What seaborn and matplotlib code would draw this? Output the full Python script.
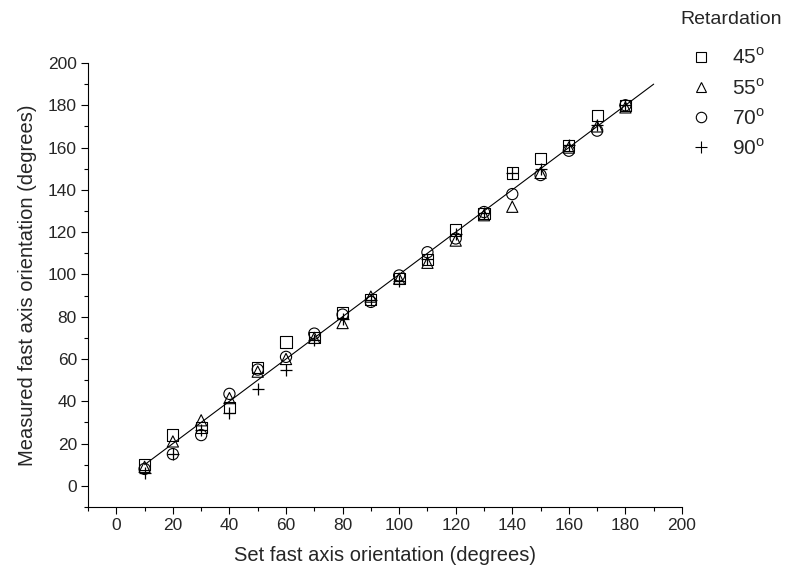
import numpy as np
import matplotlib
matplotlib.use("Agg")
import matplotlib.pyplot as plt
from matplotlib.ticker import MultipleLocator
from matplotlib.lines import Line2D
import seaborn as sns
import pandas as pd

sns.set_style("ticks")
plt.rcParams['font.family'] = ['Liberation Sans', 'DejaVu Sans']
plt.rcParams['mathtext.fontset'] = 'custom'
plt.rcParams['mathtext.rm'] = 'Liberation Sans'

set_angle = [10, 20, 30, 40, 50, 60, 70, 80, 90, 100, 110, 120, 130, 140, 150, 160, 170, 180]

meas_45 = [10, 24, 27.5, 37, 56, 68, 70, 82, 88, 98, 107, 121, 129, 148, 155, 161, 175, 180]
meas_55 = [9, 21, 31, 41.5, 54, 60, 70, 77, 89.5, 98, 105.5, 116, 128, 132, 148, 160, 170, 179]
meas_70 = [8, 15, 24, 43.5, 55, 61, 72, 81, 87, 99.5, 110.5, 117, 129.5, 138, 147, 158.5, 168, 180]
meas_90 = [6, 15, 26.5, 34.5, 46, 55, 69, 79, 88, 97, 107.5, 119, 129, 148, 150, 161, 170.5, 180]

fit_x = [10, 190]
fit_y = [10, 190]

series = [("45", meas_45, "s"), ("55", meas_55, "^"), ("70", meas_70, "o"), ("90", meas_90, "+")]

fig = plt.figure(figsize=(7.93, 5.79), dpi=100)
ax = fig.add_axes([0.111, 0.1244, 0.749, 0.7668])

sns.lineplot(x=fit_x, y=fit_y, ax=ax, color="black", linewidth=0.8)

handles = []
for name, vals, m in series:
    df = pd.DataFrame({"x": set_angle, "y": vals})
    if m == "+":
        sns.scatterplot(data=df, x="x", y="y", ax=ax, marker=m, color="black",
                        s=75, linewidth=0.9, zorder=3)
        h = Line2D([], [], marker=m, color="black", linestyle="none",
                   markersize=9, markeredgewidth=0.8)
    else:
        sns.scatterplot(data=df, x="x", y="y", ax=ax, marker=m, facecolor="none",
                        edgecolor="black", s=65, linewidth=0.8, zorder=3)
        h = Line2D([], [], marker=m, markerfacecolor="none", markeredgecolor="black",
                   linestyle="none", markersize=7.5, markeredgewidth=0.8)
    handles.append(h)

ax.set_xlim(-10, 200)
ax.set_ylim(-10, 200)
ax.xaxis.set_minor_locator(MultipleLocator(10))
ax.yaxis.set_minor_locator(MultipleLocator(10))
ax.set_xticks(np.arange(0, 201, 20))
ax.set_yticks(np.arange(0, 201, 20))
ax.tick_params(which="major", direction="out", length=5, width=0.8, labelsize=12.5,
               color="black", pad=3)
ax.tick_params(which="minor", direction="out", length=3, width=0.8, color="black")
for sp in ["top", "right"]:
    ax.spines[sp].set_visible(False)
for sp in ["left", "bottom"]:
    ax.spines[sp].set_color("black")
    ax.spines[sp].set_linewidth(0.8)

ax.set_xlabel("Set fast axis orientation (degrees)", fontsize=14.5, labelpad=9)
ax.set_ylabel("Measured fast axis orientation (degrees)", fontsize=14.5, labelpad=8)

labels = [name + r"$^\mathrm{o}$" for name, _, _ in series]
leg = fig.legend(handles, labels, title="Retardation", frameon=False,
                 loc="upper left", bbox_to_anchor=(680 / 793, 1 - 11 / 579),
                 borderaxespad=0, borderpad=0,
                 fontsize=15, title_fontsize=14, handletextpad=0.5,
                 labelspacing=0.45, handlelength=2.0)
leg._legend_box.align = "left"
leg._legend_box.sep = 14

fig.savefig("out.png", dpi=100)
